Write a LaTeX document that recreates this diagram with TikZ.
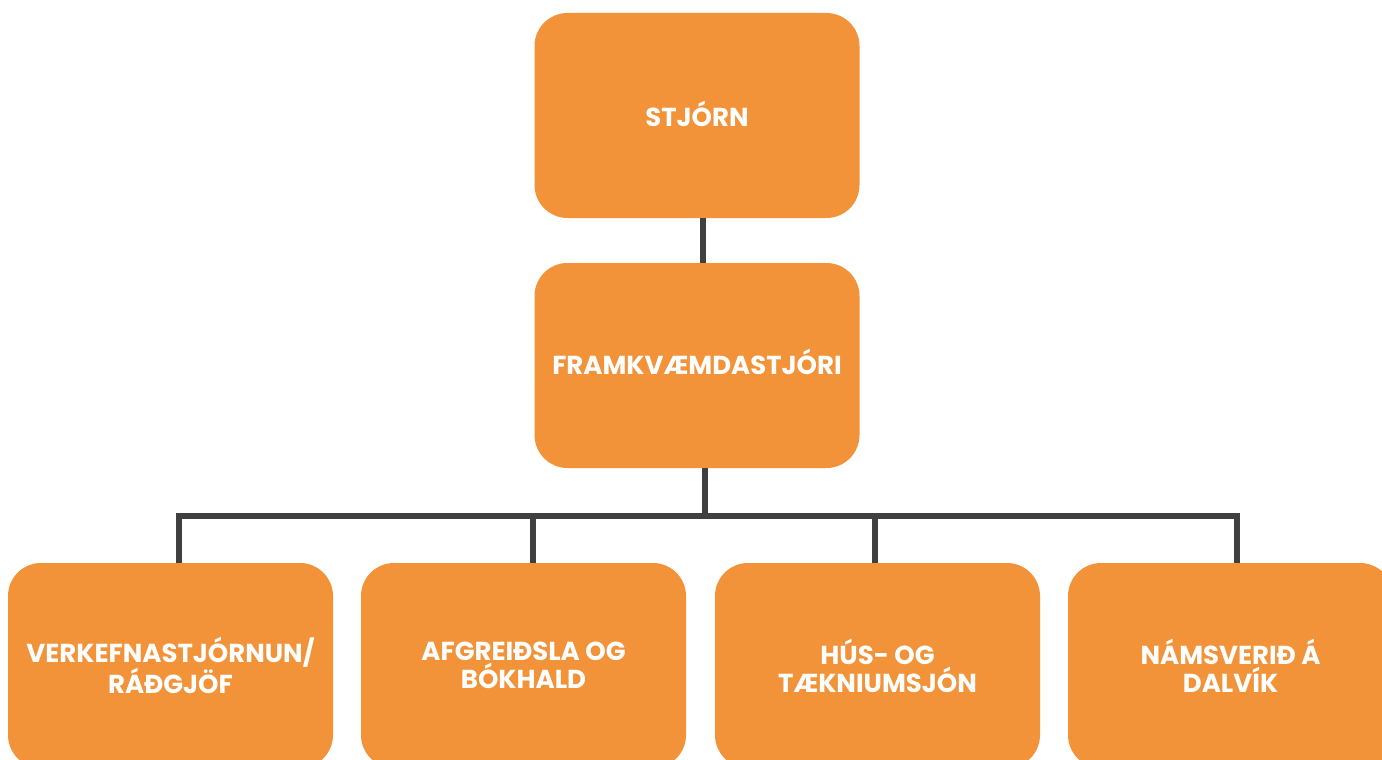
\documentclass[tikz,border=0pt]{standalone}
\usepackage{fontspec}
\setmainfont{Poppins}
\definecolor{boxorange}{HTML}{F29339}
\definecolor{linegray}{HTML}{404040}
\tikzset{
  orgbox/.style={fill=boxorange, draw=none, rounded corners=33pt, minimum width=325pt, minimum height=205pt,
    text=white, font=\fontsize{26}{28}\selectfont\bfseries, align=center, inner sep=0pt},
  conn/.style={draw=linegray, line width=6pt, line join=miter}
}
\begin{document}
\begin{tikzpicture}[x=1pt,y=-1pt]
\useasboundingbox (0,0) rectangle (1382,760);
\clip (0,0) rectangle (1382,760);
\node[orgbox] (stj) at (697,115.5) {\raisebox{3pt}{STJÓRN}};
\node[orgbox] (fra) at (697,365.5) {\raisebox{8pt}{FRAMKVÆMDASTJÓRI}};
\node[orgbox] (v1) at (170.5,665.5) {\raisebox{1pt}{VERKEFNASTJÓRNUN/}\\RÁÐGJÖF};
\node[orgbox] (v2) at (523.5,665.5) {AFGREIÐSLA OG\\BÓKHALD};
\node[orgbox] (v3) at (877.5,665.5) {HÚS- OG\\TÆKNIUMSJÓN};
\node[orgbox] (v4) at (1230.5,665.5) {NÁMSVERIÐ Á\\DALVÍK};
\coordinate (top) at (703,0);
\coordinate (stem) at (705,516);
\coordinate (d1) at (179,516);
\coordinate (d2) at (533,516);
\coordinate (d3) at (875,516);
\coordinate (d4) at (1237,516);
\draw[conn] (top |- stj.south) -- (top |- fra.north);
\draw[conn] (stem |- fra.south) -- (stem);
\draw[conn] (d1 |- v1.north) -- (d1) -- (d4) -- (d4 |- v4.north);
\draw[conn] (d2) -- (d2 |- v2.north);
\draw[conn] (d3) -- (d3 |- v3.north);
\end{tikzpicture}
\end{document}
